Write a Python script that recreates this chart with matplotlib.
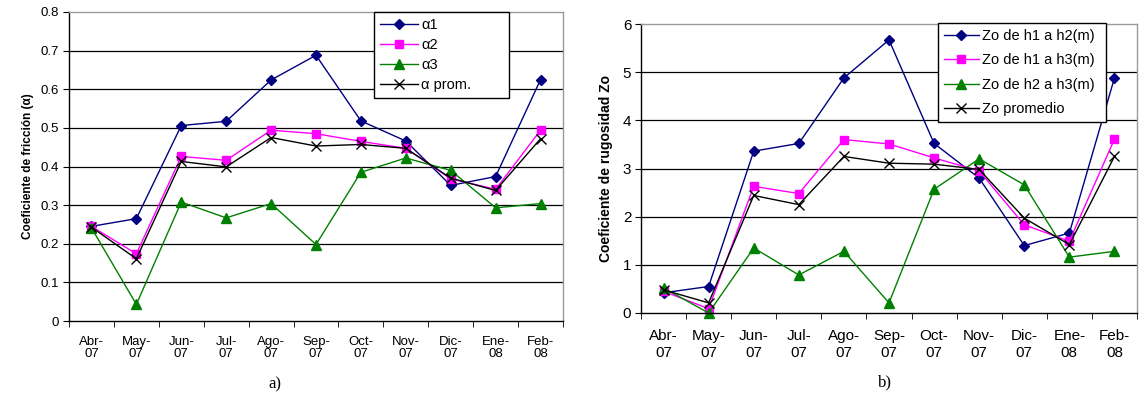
import numpy as np
import matplotlib.pyplot as plt

plt.rcParams['font.family'] = ['Liberation Sans', 'DejaVu Sans']

months = ['Abr-\n07', 'May-\n07', 'Jun-\n07', 'Jul-\n07', 'Ago-\n07', 'Sep-\n07',
          'Oct-\n07', 'Nov-\n07', 'Dic-\n07', 'Ene-\n08', 'Feb-\n08']

# panel a) friction coefficient
alpha1 = [0.245, 0.265, 0.506, 0.517, 0.624, 0.688, 0.518, 0.466, 0.351, 0.374, 0.625]
alpha2 = [0.245, 0.174, 0.426, 0.416, 0.494, 0.485, 0.465, 0.447, 0.368, 0.341, 0.494]
alpha3 = [0.241, 0.043, 0.308, 0.267, 0.304, 0.198, 0.385, 0.422, 0.390, 0.293, 0.304]
alpha_prom = [0.243, 0.161, 0.413, 0.399, 0.475, 0.453, 0.457, 0.447, 0.370, 0.338, 0.472]

# panel b) roughness Zo
zo12 = [0.42, 0.55, 3.36, 3.52, 4.88, 5.67, 3.52, 2.80, 1.40, 1.66, 4.88]
zo13 = [0.45, 0.09, 2.63, 2.48, 3.60, 3.51, 3.22, 2.95, 1.83, 1.49, 3.61]
zo23 = [0.52, 0.00, 1.35, 0.79, 1.28, 0.21, 2.57, 3.20, 2.66, 1.16, 1.28]
zo_prom = [0.48, 0.21, 2.44, 2.25, 3.25, 3.11, 3.09, 2.98, 1.97, 1.42, 3.25]

styles = [dict(color='#000080', marker='D', ms=5),
          dict(color='#FF00FF', marker='s', ms=6),
          dict(color='#008000', marker='^', ms=7),
          dict(color='black', marker='x', ms=7, mew=1)]

W, H = 1139, 393
fig = plt.figure(figsize=(W / 100, H / 100), dpi=100)
ax1 = fig.add_axes([69 / W, 1 - 321 / H, (563 - 69) / W, (321 - 12) / H])
ax2 = fig.add_axes([641 / W, 1 - 313 / H, (1137 - 641) / W, (313 - 24) / H])

x = np.arange(len(months))


def setup(ax, ymax, step, fmt, fs, pad, lsp):
    ax.set_xlim(-0.5, len(months) - 0.5)
    ax.set_ylim(0, ymax)
    ticks = np.arange(0, ymax + step / 2, step)
    ax.set_yticks(ticks)
    ax.set_yticklabels([fmt(t) for t in ticks], fontsize=fs)
    for t in ticks[1:-1]:
        ax.axhline(t, color='black', lw=0.9, zorder=0)
    ax.set_xticks(x)
    ax.set_xticklabels(months, fontsize=fs, linespacing=lsp)
    ax.tick_params(axis='x', length=0, pad=pad)
    ax.set_xticks(np.arange(-0.5, len(months)), minor=True)
    ax.tick_params(axis='x', which='minor', length=4, direction='out', color='black')
    ax.tick_params(axis='y', length=4, direction='out', pad=3)
    ax.spines['left'].set_color('black')
    ax.spines['bottom'].set_color('black')
    ax.spines['top'].set_color('#999999')
    ax.spines['right'].set_color('#999999')
    for s in ax.spines.values():
        s.set_linewidth(1.0)


setup(ax1, 0.8, 0.1, lambda t: '0' if t == 0 else f'{t:.1f}', 9.5, 11, 0.95)
setup(ax2, 6, 1, lambda t: f'{t:.0f}', 11, 11.5, 1.25)

for ys, lab, st in zip([alpha1, alpha2, alpha3, alpha_prom], ['α1', 'α2', 'α3', 'α prom.'], styles):
    ax1.plot(x, ys, lw=1, label=lab, clip_on=False, **st)
for ys, lab, st in zip([zo12, zo13, zo23, zo_prom],
                       ['Zo de h1 a h2(m)', 'Zo de h1 a h3(m)', 'Zo de h2 a h3(m)', 'Zo promedio'], styles):
    ax2.plot(x, ys, lw=1, label=lab, clip_on=False, **st)

ax1.set_ylabel('Coeficiente de fricción (α)', fontsize=8.5, fontweight='bold', labelpad=5)
ax2.set_ylabel('Coeficiente de rugosidad Zo', fontsize=10, fontweight='bold', labelpad=7)

for ax, bb, fs, lsp, hl in [(ax1, (374, 12, 509, 97), 10.5, 0.42, 2.6),
                            (ax2, (938, 23, 1106, 118), 10.5, 0.72, 2.4)]:
    x0, y0, x1, y1 = bb
    leg = ax.legend(loc='upper left', bbox_to_anchor=(x0 / W, 1 - y1 / H, (x1 - x0) / W, (y1 - y0) / H),
                    bbox_transform=fig.transFigure, mode='expand', fontsize=fs, frameon=True,
                    fancybox=False, edgecolor='black', handlelength=hl, borderaxespad=0,
                    labelspacing=lsp, handletextpad=0.25, framealpha=1)
    leg.get_frame().set_linewidth(1.0)

fig.text(275 / W, 1 - 384 / H, 'a)', fontsize=12, family='Liberation Serif', ha='center', va='center')
fig.text(885 / W, 1 - 382 / H, 'b)', fontsize=12, family='Liberation Serif', ha='center', va='center')

fig.savefig('out.png', dpi=100)
